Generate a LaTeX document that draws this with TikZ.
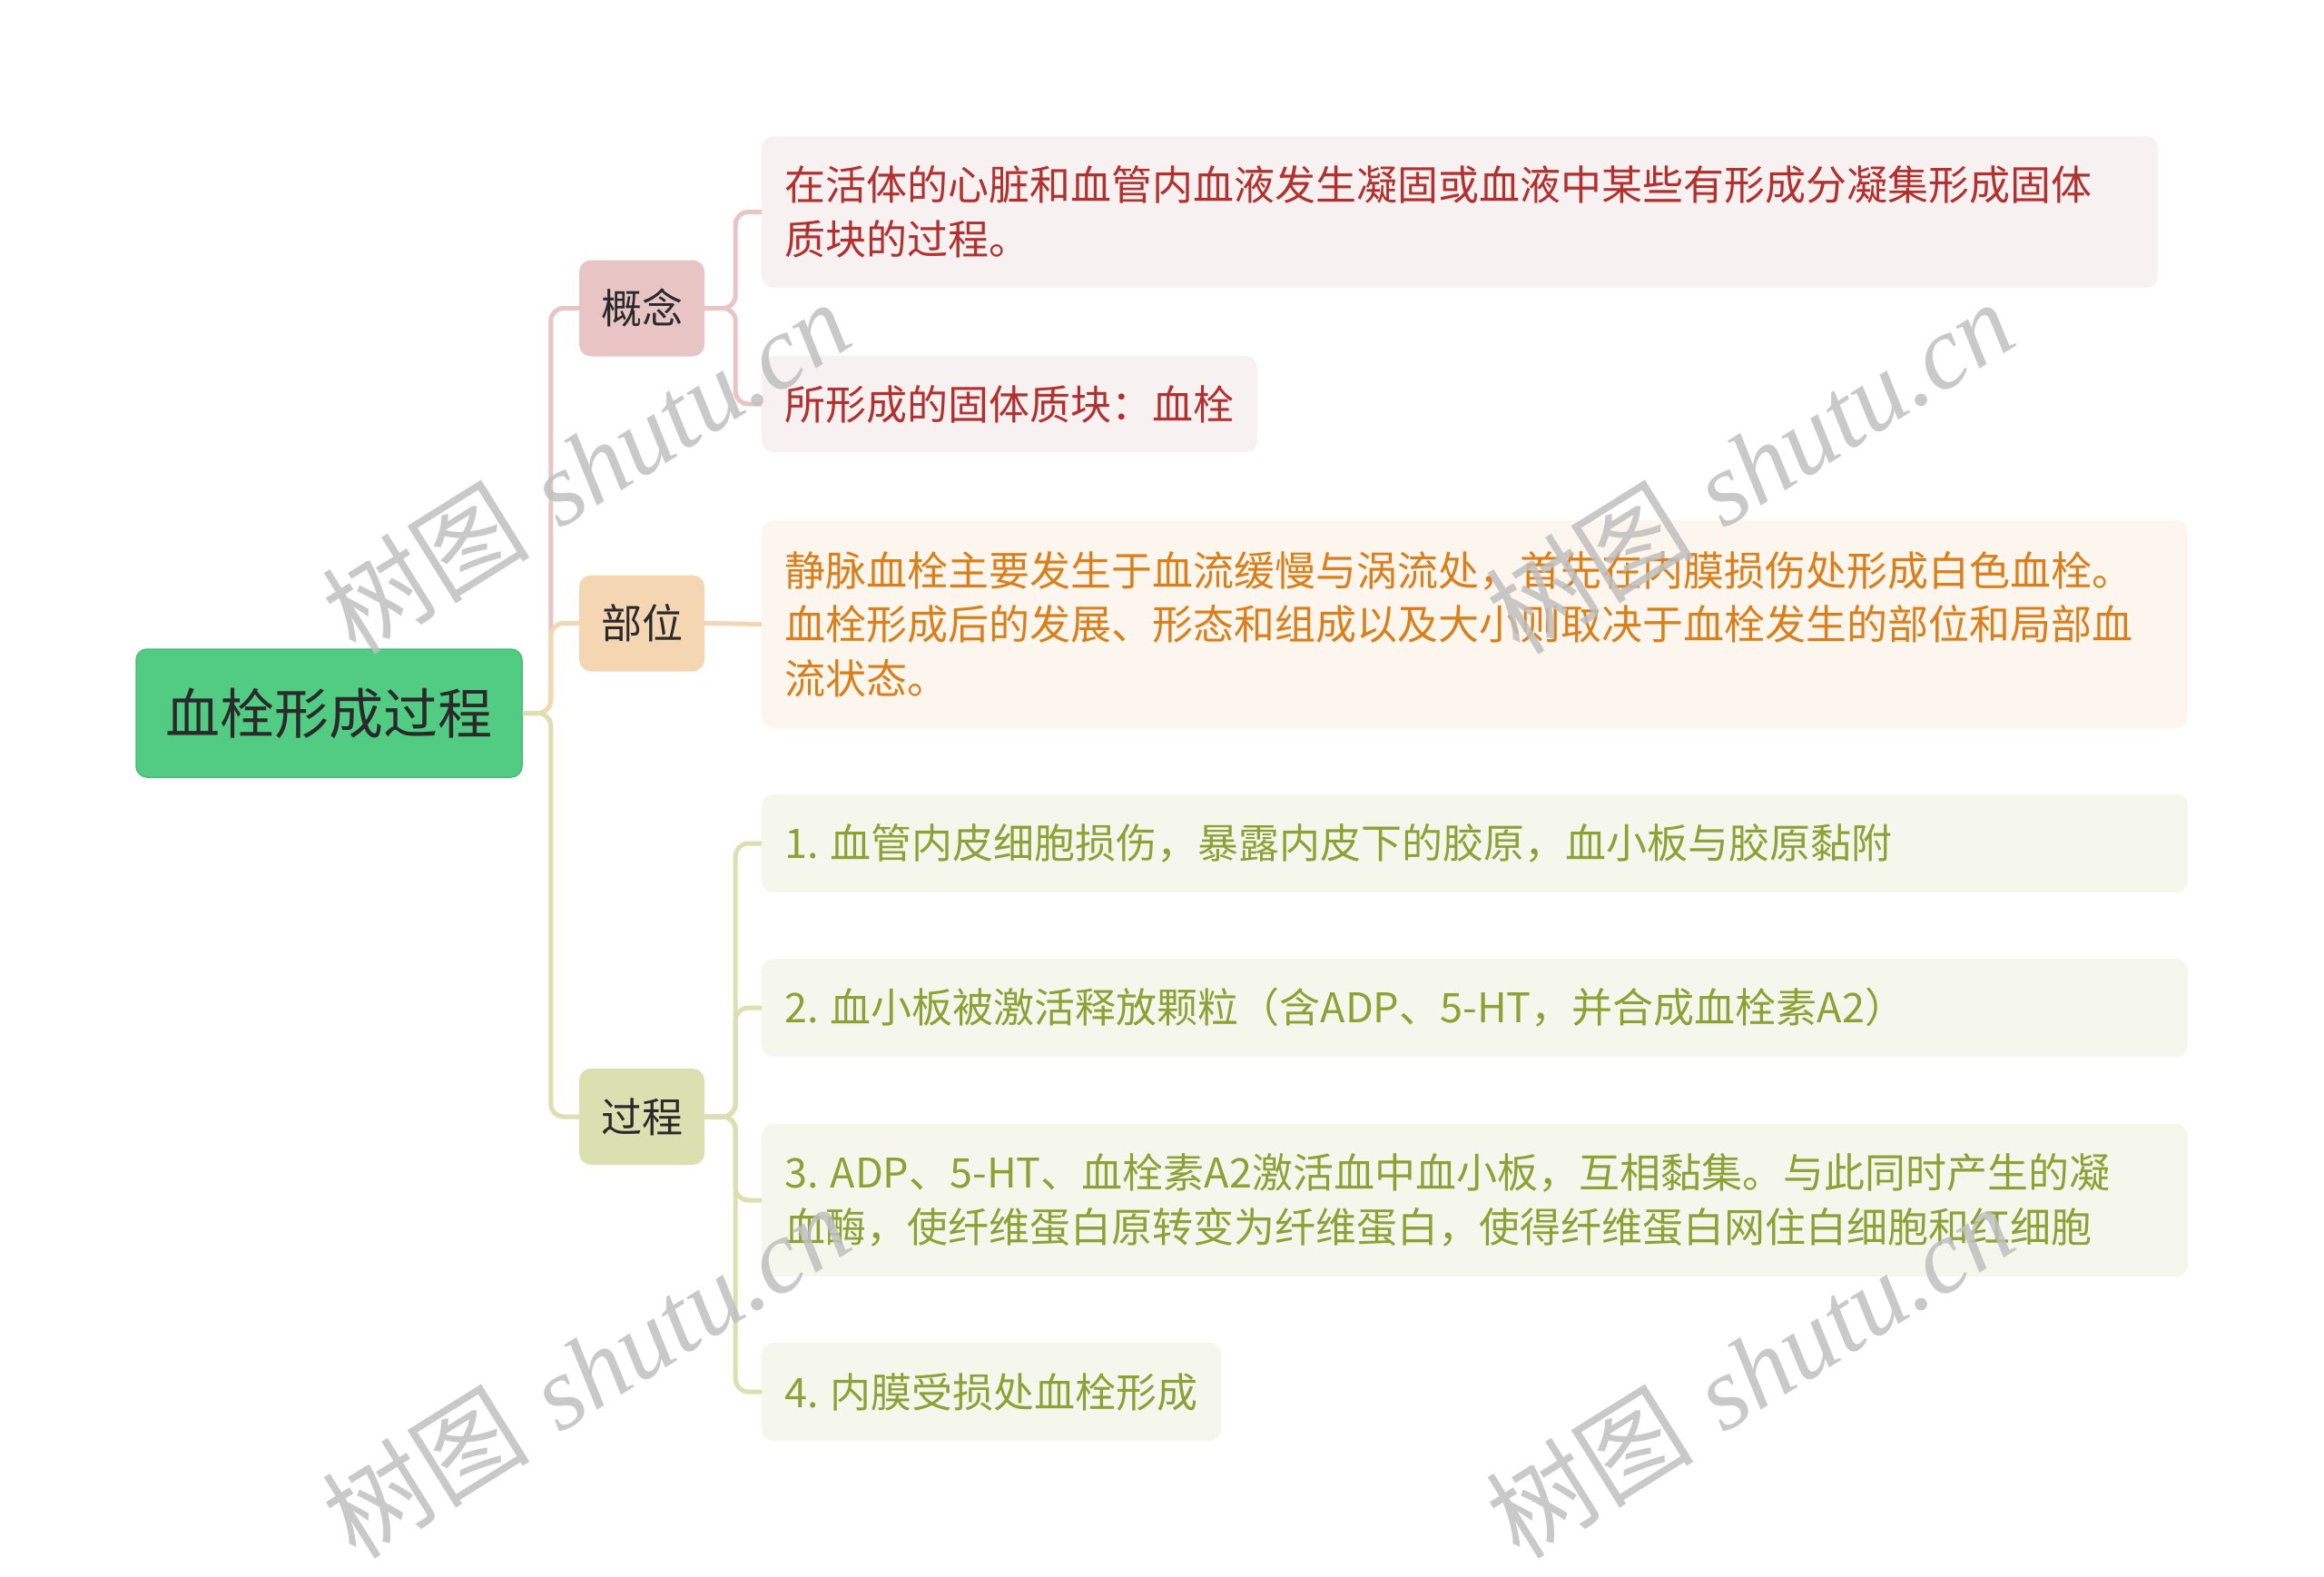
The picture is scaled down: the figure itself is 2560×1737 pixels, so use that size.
\documentclass[tikz,border=0pt]{standalone}
\usepackage{fontspec}
\newfontfamily\cjk{Noto Sans CJK SC}
\newfontfamily\wmserif{Liberation Serif}
\definecolor{rootfill}{HTML}{52CC83}
\definecolor{rootdraw}{HTML}{48BD76}
\definecolor{pinkA}{HTML}{E8C4C4}
\definecolor{peachA}{HTML}{F5D6B2}
\definecolor{oliveA}{HTML}{DAE0B0}
\definecolor{pinkB}{HTML}{F8F1F1}
\definecolor{peachB}{HTML}{FDF6EE}
\definecolor{oliveB}{HTML}{F5F7ED}
\definecolor{pinkT}{HTML}{B2302E}
\definecolor{peachT}{HTML}{D9801C}
\definecolor{oliveT}{HTML}{8DA136}
\definecolor{darkT}{HTML}{2A2A2A}
\begin{document}
\begin{tikzpicture}[x=1pt,y=-1pt,
  rootbox/.style={rounded corners=12pt, fill=rootfill, draw=rootdraw, line width=1.5pt,
    minimum width=425pt, minimum height=141pt, inner sep=0pt, text=darkT,
    font=\cjk\fontsize{60}{70}\selectfont},
  topicbox/.style={rounded corners=13pt, minimum width=138pt, minimum height=106pt,
    inner sep=0pt, text=darkT, font=\cjk\fontsize{45}{59}\selectfont},
  leafbox/.style={rounded corners=13pt, anchor=west, inner xsep=25pt, inner ysep=0pt,
    align=left, font=\cjk\fontsize{45}{59.5}\selectfont},
  link/.style={line width=5pt, rounded corners=14pt},
  wm/.style={rotate=32, text=black!25, opacity=0.85, font=\fontsize{115}{115}\selectfont}
]
\useasboundingbox (0,0) rectangle (2560,1737);

% root
\node[rootbox] (root) at (362.5,785.5) {血栓形成过程};

% main topics
\node[topicbox, fill=pinkA] (gn) at (707,339.5) {概念};
\node[topicbox, fill=peachA] (bw) at (707,686.5) {部位};
\node[topicbox, fill=oliveA] (gc) at (707,1230) {过程};

% leaves
\node[leafbox, fill=pinkB, text=pinkT, minimum width=1538pt, minimum height=167pt, text width=1488pt]
  (c1) at (839,233.5) {在活体的心脏和血管内血液发生凝固或血液中某些有形成分凝集形成固体\\质块的过程。};
\node[leafbox, fill=pinkB, text=pinkT, minimum width=546pt, minimum height=106pt, text width=496pt]
  (c2) at (839,445) {\mbox{所形成的固体质块：血栓}};
\node[leafbox, fill=peachB, text=peachT, minimum width=1571pt, minimum height=229pt, text width=1521pt]
  (b1) at (839,687.5) {静脉血栓主要发生于血流缓慢与涡流处，首先在内膜损伤处形成白色血栓。\\血栓形成后的发展、形态和组成以及大小则取决于血栓发生的部位和局部血\\流状态。};
\node[leafbox, fill=oliveB, text=oliveT, minimum width=1571pt, minimum height=108pt, text width=1521pt]
  (p1) at (839,929) {1.\hspace{13pt}血管内皮细胞损伤，暴露内皮下的胶原，血小板与胶原黏附};
\node[leafbox, fill=oliveB, text=oliveT, minimum width=1571pt, minimum height=108pt, text width=1521pt]
  (p2) at (839,1110) {2.\hspace{13pt}血小板被激活释放颗粒（含ADP、5-HT，并合成血栓素A2）};
\node[leafbox, fill=oliveB, text=oliveT, minimum width=1571pt, minimum height=168pt, text width=1521pt]
  (p3) at (839,1322) {3.\hspace{13pt}ADP、5-HT、血栓素A2激活血中血小板，互相黏集。与此同时产生的凝\\血酶，使纤维蛋白原转变为纤维蛋白，使得纤维蛋白网住白细胞和红细胞};
\node[leafbox, fill=oliveB, text=oliveT, minimum width=506pt, minimum height=108pt, text width=456pt]
  (p4) at (839,1533) {\mbox{4.\hspace{13pt}内膜受损处血栓形成}};

% connectors from root
\draw[link, draw=pinkA] (root.east) -- ++(31,0) |- (gn.west);
\draw[link, draw=peachA] (root.east) -- ++(31,0) |- (bw.west);
\draw[link, draw=oliveA] (root.east) -- ++(31,0) |- (gc.west);

% connectors to leaves
\draw[link, draw=pinkA] (gn.east) -- ++(34,0) |- (c1.west);
\draw[link, draw=pinkA] (gn.east) -- ++(34,0) |- (c2.west);
\draw[link, draw=peachA] (bw.east) -- (b1.west);
\draw[link, draw=oliveA] (gc.east) -- ++(34,0) |- (p1.west);
\draw[link, draw=oliveA] (gc.east) -- ++(34,0) |- (p2.west);
\draw[link, draw=oliveA] (gc.east) -- ++(34,0) |- (p3.west);
\draw[link, draw=oliveA] (gc.east) -- ++(34,0) |- (p4.west);

% watermarks
\node[wm] (w1) at (645,514) {{\cjk 树图} {\wmserif\itshape shutu.cn}};
\node[wm] (w2) at (1927,514) {{\cjk 树图} {\wmserif\itshape shutu.cn}};
\node[wm] (w3) at (645,1510) {{\cjk 树图} {\wmserif\itshape shutu.cn}};
\node[wm] (w4) at (1927,1510) {{\cjk 树图} {\wmserif\itshape shutu.cn}};
\end{tikzpicture}
\end{document}
